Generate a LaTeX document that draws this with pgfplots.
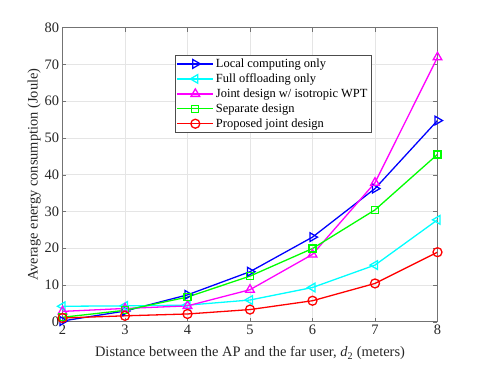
\documentclass[border=0pt]{standalone}
\usepackage{fontspec}
\setmainfont{Liberation Serif}
\usepackage{pgfplots}
\pgfplotsset{compat=1.18}

\definecolor{lblue}{rgb}{0,0,1}
\definecolor{lcyan}{rgb}{0,1,1}
\definecolor{lmag}{rgb}{1,0,1}
\definecolor{lgreen}{rgb}{0,1,0}
\definecolor{lred}{rgb}{1,0,0}

\begin{document}
\begin{tikzpicture}
\useasboundingbox (-62.5bp,-45.3bp) rectangle (422.5bp,321.7bp);
\begin{axis}[
    scale only axis,
    width=375bp,
    height=294.2bp,
    xmin=2, xmax=8,
    ymin=0, ymax=80,
    xtick={2,3,4,5,6,7,8},
    ytick={0,10,20,30,40,50,60,70,80},
    grid=major,
    grid style={gray!20, line width=0.5pt},
    axis line style={black!55, line width=0.6pt},
    tick style={black!55},
    tick align=inside,
    major tick length=4bp,
    ticklabel style={font=\fontsize{14.5}{16}\selectfont, text=black!85},
    /pgf/number format/assume math mode=true,
    xlabel={Distance between the AP and the far user, \textit{d}\textsubscript{2} (meters)},
    ylabel={Average energy consumption (Joule)},
    label style={font=\fontsize{14.5}{16}\selectfont, text=black!85},
    xlabel style={yshift=-5bp},
    ylabel style={yshift=-3bp},
    legend style={at={(0.30,0.906)}, anchor=north west,
        font=\fontsize{12.5}{14}\selectfont, draw=black!70, fill=white,
        inner sep=1.5bp, row sep=0.8bp},
    legend cell align=left,
    legend image code/.code={%
        \draw[mark repeat=2,mark phase=2,#1]
        plot coordinates {(0bp,0bp)(18bp,0bp)(36bp,0bp)};},
]
\addplot[lblue, line width=1.3pt, mark=triangle, mark size=5bp, mark options={rotate=-90, fill=none}]
    coordinates {(2,0.2)(3,2.9)(4,7.3)(5,13.6)(6,23.0)(7,36.2)(8,54.7)};
\addlegendentry{Local computing only}
\addplot[lcyan, line width=1.3pt, mark=triangle, mark size=5bp, mark options={rotate=90, fill=none}]
    coordinates {(2,4.2)(3,4.3)(4,4.5)(5,5.9)(6,9.3)(7,15.4)(8,27.7)};
\addlegendentry{Full offloading only}
\addplot[lmag, line width=1.3pt, mark=triangle, mark size=5bp, mark options={fill=none}]
    coordinates {(2,2.8)(3,3.6)(4,4.3)(5,8.7)(6,18.3)(7,37.8)(8,71.9)};
\addlegendentry{Joint design w/ isotropic WPT}
\addplot[lgreen, line width=1.3pt, mark=square, mark size=3.5bp, mark options={fill=none}]
    coordinates {(2,1.2)(3,3.1)(4,6.7)(5,12.4)(6,19.9)(7,30.4)(8,45.5)};
\addlegendentry{Separate design}
\addplot[lred, line width=1.3pt, mark=o, mark size=4.5bp, mark options={fill=none}]
    coordinates {(2,1.0)(3,1.6)(4,2.1)(5,3.3)(6,5.7)(7,10.4)(8,18.9)};
\addlegendentry{Proposed joint design}
\end{axis}
\end{tikzpicture}
\end{document}
